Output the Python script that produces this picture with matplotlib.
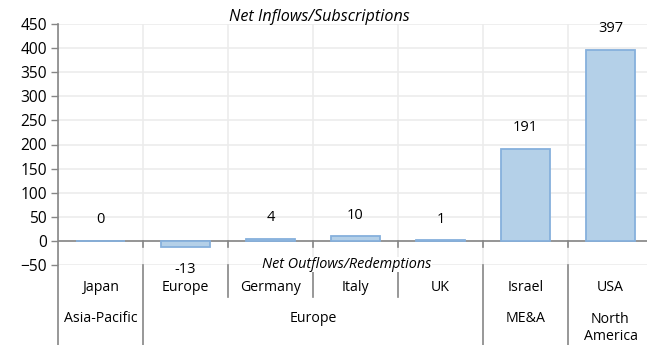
import matplotlib

matplotlib.use("Agg")
import matplotlib.pyplot as plt

# Data
countries = ["Japan", "Europe", "Germany", "Italy", "UK", "Israel", "USA"]
values = [0, -13, 4, 10, 1, 191, 397]
regions = ["Asia-Pacific", "Europe", "ME&A", "North\nAmerica"]
region_spans = [(0, 0), (1, 4), (5, 5), (6, 6)]
y_ticks = list(range(-50, 451, 50))

plt.rcParams["font.family"] = ["Open Sans", "DejaVu Sans"]
plt.rcParams["font.size"] = 10.2

GRID = "#ececec"
AXIS = "#868686"
BAR_FACE = "#b4d0e8"
BAR_EDGE = "#86b0dc"

fig = plt.figure(figsize=(6.47, 3.45), dpi=100)
ax = fig.add_axes([58 / 647, 80 / 345, 595 / 647, 241 / 345])

x = list(range(len(countries)))
ax.bar(x, values, width=0.58, color=BAR_FACE, edgecolor=BAR_EDGE, linewidth=1.3, zorder=5)

ax.set_xlim(-0.5, len(countries) - 0.5)
ax.set_ylim(-50, 450)
ax.set_yticks(y_ticks)
ax.set_xticks([])
ax.tick_params(axis="y", length=5, color=AXIS, width=1, pad=3, labelsize=11.2)
ax.yaxis.grid(True, color=GRID, linewidth=1.2, zorder=0)
for b in range(len(countries) + 1):
    ax.axvline(b - 0.5, color=GRID, linewidth=1.2, zorder=0)

for side in ["top", "right", "bottom", "left"]:
    ax.spines[side].set_visible(False)

# zero line with small ticks
ax.axhline(0, color=AXIS, linewidth=1.2, zorder=4)
for b in range(1, len(countries) + 1):
    ax.plot([b - 0.5, b - 0.5], [0, -12], color=AXIS, linewidth=1.2, zorder=4, clip_on=False)

# value labels
for xi, v in zip(x, values):
    off = 21 if v >= 0 else -22
    ax.annotate(str(v), (xi, v), xytext=(0, off), textcoords="offset pixels",
                ha="center", va="center", fontsize=10.5)

ax.text(0.44, 1.03, "Net Inflows/Subscriptions", transform=ax.transAxes, ha="center", va="center",
        style="italic", fontsize=11.6)
ax.text(2.9, -49, "Net Outflows/Redemptions", ha="center", va="center", style="italic", fontsize=10.4,
        zorder=6, bbox=dict(facecolor="white", edgecolor="none", pad=0))

# category axis separators
tr = ax.get_xaxis_transform()
full = [-0.5, 0.5, 4.5, 5.5, 6.5]
for b in range(len(countries) + 1):
    xb = b - 0.5
    y0 = -0.332 if xb in full else -0.133
    top = 1.0 if b == 0 else 0.0
    ax.plot([xb, xb], [y0, top], color=AXIS, linewidth=1.2, transform=tr, clip_on=False, zorder=4)

for xi, name in zip(x, countries):
    ax.text(xi, -0.095, name, transform=tr, ha="center", va="center")

for name, (a, b) in zip(regions, region_spans):
    yy = -0.22 if "\n" not in name else -0.262
    ax.text((a + b) / 2, yy, name, transform=tr, ha="center", va="center", linespacing=1.2)

plt.savefig("out.png", dpi=100)
